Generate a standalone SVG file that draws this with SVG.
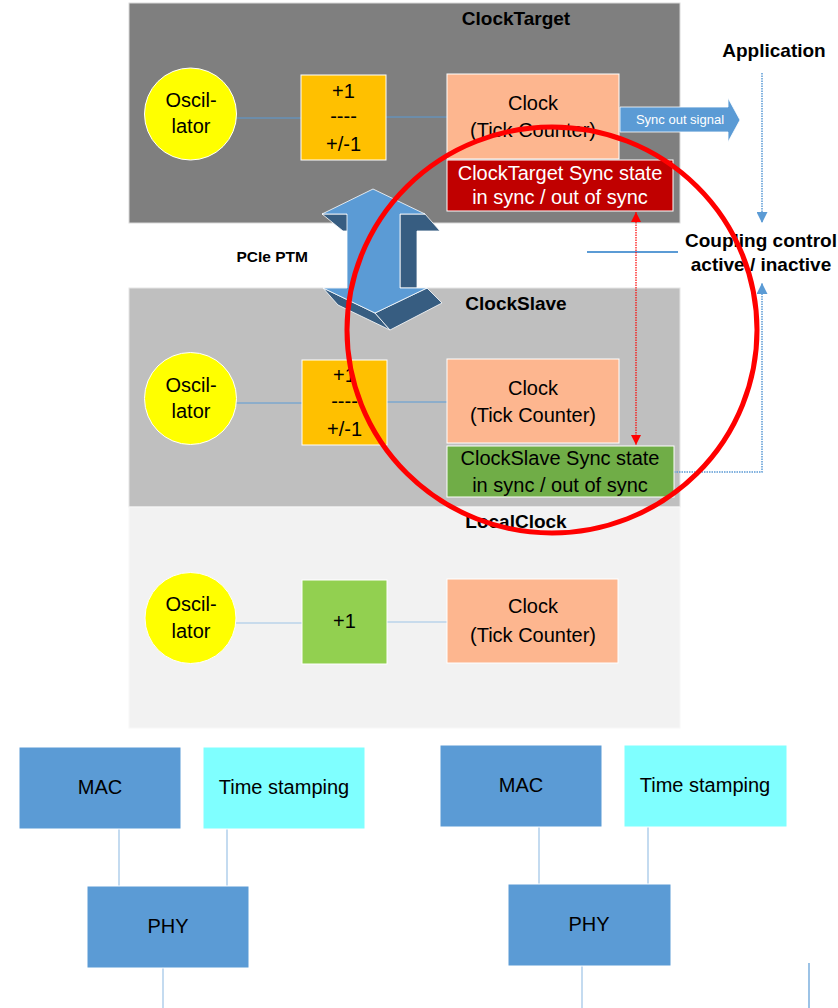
<svg xmlns="http://www.w3.org/2000/svg" width="838" height="1008" viewBox="0 0 838 1008">
<defs>
<style>
text{font-family:"Liberation Sans",Arial,sans-serif;}
.t{font-size:20px;fill:#000;text-anchor:middle;}
.tw{font-size:20px;fill:#fff;text-anchor:middle;}
.b{font-size:19px;font-weight:bold;fill:#000;text-anchor:middle;}
.osc{fill:#FFFF00;stroke:#fff;stroke-width:1;}
.inc{fill:#FFC000;stroke:#fff;stroke-width:1;}
.clk{fill:#FDB68F;stroke:#fff;stroke-width:1;}
.blue{fill:#5B9BD5;stroke:#fff;stroke-width:1;}
.cyan{fill:#7FFFFF;stroke:#fff;stroke-width:1;}
.ln{stroke:#5B9BD5;stroke-width:1;fill:none;}
.lnl{stroke:#9DC3E6;stroke-width:1.2;fill:none;}
.dot{stroke:#5B9BD5;stroke-width:1.5;stroke-dasharray:1.5,1;fill:none;}
.rdot{stroke:#FF0000;stroke-width:1.2;stroke-dasharray:1.5,1;fill:none;}
</style>
<marker id="ab" viewBox="0 0 10 10" refX="10" refY="5" markerWidth="14" markerHeight="11" markerUnits="userSpaceOnUse" orient="auto"><path d="M0,0 L10,5 L0,10 z" fill="#5B9BD5"/></marker>
<marker id="ar" viewBox="0 0 10 10" refX="10" refY="5" markerWidth="14" markerHeight="10" markerUnits="userSpaceOnUse" orient="auto-start-reverse"><path d="M0,0 L10,5 L0,10 z" fill="#FF0000"/></marker>
</defs>
<rect width="838" height="1008" fill="#fff"/>

<g id="panel-clocktarget">
<rect x="129" y="3" width="551" height="220" fill="#7F7F7F" stroke="#D9D9D9" stroke-width="1"/>
<text class="b" x="516" y="25">ClockTarget</text>
</g>
<g id="panel-clockslave">
<rect x="129" y="288" width="551" height="219" fill="#BFBFBF" stroke="#E6E6E6" stroke-width="1"/>
<text class="b" x="516" y="310">ClockSlave</text>
</g>
<g id="panel-localclock">
<rect x="129" y="507" width="551" height="221" fill="#F2F2F2" stroke="#F8F8F8" stroke-width="1"/>
<text class="b" x="516" y="528">LocalClock</text>
</g>

<g id="connectors">
<line class="ln" x1="236" y1="118" x2="301" y2="118"/>
<line class="ln" x1="386" y1="117" x2="447" y2="117"/>
<line class="ln" x1="236" y1="403" x2="302" y2="403"/>
<line class="ln" x1="387" y1="402" x2="447" y2="402"/>
<line class="lnl" x1="236" y1="623" x2="302" y2="623"/>
<line class="lnl" x1="387" y1="622" x2="447" y2="622"/>
<line class="dot" x1="762" y1="73" x2="762" y2="223" marker-end="url(#ab)"/>
<polyline class="dot" points="654,472 762,472 762,283" marker-end="url(#ab)"/>
<line x1="587" y1="252" x2="678" y2="252" stroke="#5B9BD5" stroke-width="2"/>
<line class="rdot" x1="636" y1="212" x2="636" y2="445" marker-start="url(#ar)" marker-end="url(#ar)"/>
<line class="lnl" x1="119" y1="829" x2="119" y2="886"/>
<line class="lnl" x1="227" y1="829" x2="227" y2="886"/>
<line class="lnl" x1="163" y1="968" x2="163" y2="1008"/>
<line class="lnl" x1="539" y1="827" x2="539" y2="884"/>
<line class="lnl" x1="648" y1="827" x2="648" y2="884"/>
<line class="lnl" x1="582" y1="966" x2="582" y2="1008"/>
<line x1="809" y1="963" x2="809" y2="1008" stroke="#5B9BD5" stroke-width="1.2"/>
</g>

<g id="ct-osc">
<circle class="osc" cx="190.5" cy="114" r="46"/>
<text class="t" x="191" y="107">Oscil-</text>
<text class="t" x="191" y="133">lator</text>
</g>
<g id="ct-inc">
<rect class="inc" x="301" y="75" width="85" height="85"/>
<text class="t" x="343.5" y="98">+1</text>
<text class="t" x="343.5" y="123">----</text>
<text class="t" x="343.5" y="151">+/-1</text>
</g>
<g id="ct-clock">
<rect class="clk" x="447" y="74" width="172" height="85"/>
<text class="t" x="533" y="110">Clock</text>
<text class="t" x="533" y="137">(Tick Counter)</text>
</g>
<g id="ct-sync">
<rect x="447" y="160" width="226" height="51" fill="#C00000" stroke="#fff" stroke-width="1"/>
<text class="tw" x="560" y="180">ClockTarget Sync state</text>
<text class="tw" x="560" y="204">in sync / out of sync</text>
</g>
<g id="sync-out">
<polygon points="620,107 728,107 728,98 740,120 728,142 728,132 620,132" fill="#5B9BD5" stroke="#fff" stroke-width="0.8"/>
<text x="680" y="124" style="font-size:13px;fill:#fff;text-anchor:middle">Sync out signal</text>
</g>

<g id="application">
<text class="b" x="774" y="57">Application</text>
</g>
<g id="coupling">
<text class="b" x="761" y="247">Coupling control</text>
<text class="b" x="761" y="271">active / inactive</text>
</g>
<g id="pcie-ptm">
<text class="b" x="308" y="262" style="text-anchor:end;font-size:15.5px">PCIe PTM</text>
</g>

<g id="ptm-arrow" stroke="#fff" stroke-width="0.8" stroke-linejoin="round">
<polygon points="400,214 425,214 440,231 417,231 417,288 400,288" fill="#375D81"/>
<polygon points="322,214 347,214 353,231 343,231" fill="#375D81"/>
<polygon points="323,288 375,313 390,330 338,305" fill="#375D81"/>
<polygon points="375,313 427,288 442,303 390,330" fill="#375D81"/>
<polygon points="373,189 425,214 400,214 400,288 427,288 375,313 323,288 347,288 347,214 322,214" fill="#5B9BD5"/>
</g>

<g id="cs-osc">
<circle class="osc" cx="190.5" cy="398.5" r="46"/>
<text class="t" x="191" y="392">Oscil-</text>
<text class="t" x="191" y="418">lator</text>
</g>
<g id="cs-inc">
<rect class="inc" x="302" y="360" width="85" height="85"/>
<text class="t" x="344.5" y="382">+1</text>
<text class="t" x="344.5" y="408">----</text>
<text class="t" x="344.5" y="436">+/-1</text>
</g>
<g id="cs-clock">
<rect class="clk" x="447" y="359" width="172" height="84"/>
<text class="t" x="533" y="395">Clock</text>
<text class="t" x="533" y="422">(Tick Counter)</text>
</g>
<g id="cs-sync">
<rect x="447" y="446" width="227" height="51" fill="#70AD47" stroke="#fff" stroke-width="1"/>
<text class="t" x="560" y="465">ClockSlave Sync state</text>
<text class="t" x="560" y="492">in sync / out of sync</text>
</g>

<g id="lc-osc">
<circle class="osc" cx="190.5" cy="618" r="45.5"/>
<text class="t" x="191" y="611">Oscil-</text>
<text class="t" x="191" y="638">lator</text>
</g>
<g id="lc-inc">
<rect x="302" y="580" width="85" height="84" fill="#92D050" stroke="#fff" stroke-width="1"/>
<text class="t" x="344.5" y="628">+1</text>
</g>
<g id="lc-clock">
<rect class="clk" x="447" y="579" width="171" height="84"/>
<text class="t" x="533" y="613">Clock</text>
<text class="t" x="533" y="642">(Tick Counter)</text>
</g>

<g id="mac1"><rect class="blue" x="19" y="747" width="162" height="82"/><text class="t" x="100" y="794">MAC</text></g>
<g id="ts1"><rect class="cyan" x="203" y="747" width="162" height="82"/><text class="t" x="284" y="794">Time stamping</text></g>
<g id="phy1"><rect class="blue" x="87" y="886" width="162" height="82"/><text class="t" x="168" y="933">PHY</text></g>
<g id="mac2"><rect class="blue" x="440" y="745" width="162" height="82"/><text class="t" x="521" y="792">MAC</text></g>
<g id="ts2"><rect class="cyan" x="624" y="745" width="163" height="82"/><text class="t" x="705" y="792">Time stamping</text></g>
<g id="phy2"><rect class="blue" x="508" y="884" width="163" height="82"/><text class="t" x="589" y="931">PHY</text></g>

<g id="highlight-circle">
<ellipse cx="552" cy="330" rx="205" ry="203" fill="none" stroke="#FF0000" stroke-width="5"/>
</g>
</svg>
